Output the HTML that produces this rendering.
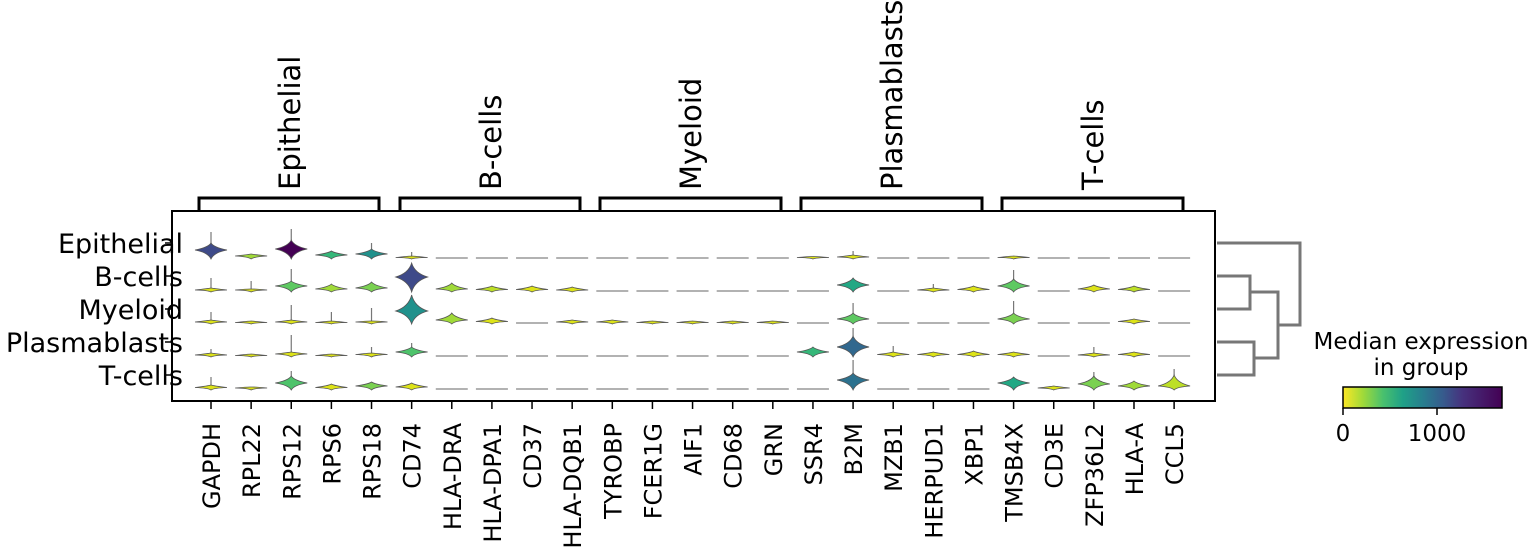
<!DOCTYPE html>
<html><head><meta charset="utf-8"><style>
html,body{margin:0;padding:0;background:#fff;}
svg{display:block;font-family:"DejaVu Sans","Liberation Sans",sans-serif;}
</style></head><body>
<svg id="s" width="1535" height="548" viewBox="0 0 1535 548" xmlns="http://www.w3.org/2000/svg">
<defs>
<linearGradient id="vir" x1="0" x2="1" y1="0" y2="0">
<stop offset="0" stop-color="#fde725"/><stop offset="0.125" stop-color="#a0da39"/><stop offset="0.25" stop-color="#4ac16d"/><stop offset="0.375" stop-color="#1fa187"/><stop offset="0.5" stop-color="#277f8e"/><stop offset="0.625" stop-color="#365c8d"/><stop offset="0.75" stop-color="#46327e"/><stop offset="1" stop-color="#440154"/>
</linearGradient>
</defs>
<rect x="172" y="211" width="1043" height="190" fill="#fff" stroke="#000" stroke-width="2"/>
<g id="v"></g>
<g fill="none" stroke="#000" stroke-width="3">
<path d="M199,211 V198 H379 V211"/><path d="M400,211 V198 H580 V211"/><path d="M600,211 V198 H781 V211"/><path d="M801,211 V198 H982 V211"/><path d="M1002,211 V198 H1183 V211"/>
</g>
<g font-size="29" fill="#000">
<text transform="translate(300,190) rotate(-90)">Epithelial</text>
<text transform="translate(501,190) rotate(-90)">B-cells</text>
<text transform="translate(701,190) rotate(-90)">Myeloid</text>
<text transform="translate(902,190) rotate(-90)">Plasmablasts</text>
<text transform="translate(1103,190) rotate(-90)">T-cells</text>
</g>
<g font-size="27" fill="#000" text-anchor="end">
<text x="183" y="253">Epithelial</text><text x="183" y="286">B-cells</text><text x="183" y="319">Myeloid</text><text x="183" y="352">Plasmablasts</text><text x="183" y="385">T-cells</text>
</g>
<g stroke="#000" stroke-width="1.5">
<line x1="165" x2="172" y1="243" y2="243"/><line x1="165" x2="172" y1="276" y2="276"/><line x1="165" x2="172" y1="309" y2="309"/><line x1="165" x2="172" y1="342" y2="342"/><line x1="165" x2="172" y1="375" y2="375"/>
</g>
<g id="xl" font-size="24" fill="#000" text-anchor="end"></g>
<g fill="none" stroke="#777" stroke-width="3">
<path d="M1217,243 H1300 V325 H1278"/>
<path d="M1217,276 H1250 V309 H1217"/><path d="M1250,292 H1278 V358 H1254"/>
<path d="M1217,342 H1254 V375 H1217"/>
</g>
<g font-size="23" fill="#000" text-anchor="middle">
<text x="1421" y="349">Median expression</text><text x="1421" y="375">in group</text>
<text x="1343" y="441">0</text><text x="1437" y="441">1000</text>
</g>
<rect x="1343" y="387" width="159" height="21" fill="url(#vir)" stroke="#000" stroke-width="1.5"/>
<g stroke="#000" stroke-width="1.5"><line x1="1343" x2="1343" y1="408" y2="415"/><line x1="1437" x2="1437" y1="408" y2="415"/></g>
</svg>
<script>
var genes=["GAPDH","RPL22","RPS12","RPS6","RPS18","CD74","HLA-DRA","HLA-DPA1","CD37","HLA-DQB1","TYROBP","FCER1G","AIF1","CD68","GRN","SSR4","B2M","MZB1","HERPUD1","XBP1","TMSB4X","CD3E","ZFP36L2","HLA-A","CCL5"];
var X=function(i){return 211+i*40.13;};
var NS="http://www.w3.org/2000/svg";
var xl=document.getElementById("xl"),v=document.getElementById("v"),s=document.getElementById("s");
genes.forEach(function(g,i){
 var t=document.createElementNS(NS,"text");t.setAttribute("transform","translate("+(X(i)+9)+",423) rotate(-90)");t.textContent=g;xl.appendChild(t);
 var l=document.createElementNS(NS,"line");l.setAttribute("x1",X(i));l.setAttribute("x2",X(i));l.setAttribute("y1",401);l.setAttribute("y2",409);l.setAttribute("stroke","#000");l.setAttribute("stroke-width","1.5");s.appendChild(l);
});
var Y=[258,291,323,356,389];
var Yc="#dde318",LG="#a0da39",G="#7ad151",MG="#5ec962",TE="#22a884",TL="#21918c",BL="#3e4a89",BL2="#31688e",PU="#440154",SG="#35b779";
var d=[
[0,0,BL,8,15,232],[0,1,LG,2,4,0],[0,2,PU,9,18,229],[0,3,SG,3,7,0],[0,4,TL,4,9,243],[0,5,Yc,0.5,2,252],[0,16,Yc,1,3,251],[0,15,Yc,0.5,1.5,0],[0,20,Yc,0.5,2,0],
[1,0,Yc,1,3,278],[1,1,Yc,1,2,281],[1,2,MG,5,10,269],[1,3,LG,2,7,0],[1,4,G,3,9,0],[1,5,BL,14,28,0],[1,6,LG,2,8,0],[1,7,"#bddf26",1.5,5,0],[1,8,Yc,1.5,5,0],[1,9,Yc,1,4,0],[1,16,TE,6,13,0],[1,18,Yc,1,3,284],[1,19,Yc,1.5,5,0],[1,20,MG,5,12,270],[1,22,Yc,2,6,0],[1,23,"#bddf26",1.5,5,0],
[2,0,Yc,1,3,312],[2,1,Yc,0.5,2,0],[2,2,Yc,1,3,305],[2,3,Yc,0.5,2,312],[2,4,Yc,1,2,308],[2,5,TL,12,28,295],[2,6,LG,3,10,0],[2,7,Yc,1.5,5,0],[2,9,Yc,1,3,0],[2,10,Yc,1,3,0],[2,11,Yc,0.5,2,0],[2,12,Yc,0.5,2,0],[2,13,Yc,0.5,2,0],[2,14,Yc,0.5,2,0],[2,16,MG,4,10,303],[2,20,G,4,10,301],[2,23,Yc,1.5,4,0],
[3,0,Yc,1,3,349],[3,1,Yc,0.5,2,0],[3,2,Yc,2,4,335],[3,3,Yc,0.5,2,0],[3,4,Yc,1.5,3,347],[3,5,"#4ec36b",4,9,343],[3,15,SG,4,9,0],[3,16,BL2,9,20,328],[3,17,Yc,1.5,4,346],[3,18,Yc,1.5,4,0],[3,19,Yc,1.5,5,0],[3,20,Yc,1.5,4,0],[3,22,Yc,1,3,347],[3,23,Yc,1.5,4,0],
[4,0,Yc,1.5,4,377],[4,1,Yc,1,2,0],[4,2,"#4ec36b",6,13,371],[4,3,Yc,1.5,5,0],[4,4,G,3,7,0],[4,5,Yc,2,6,0],[4,16,"#2c718e",9,16,360],[4,20,TE,6,12,0],[4,21,Yc,1,3,0],[4,22,G,5,13,372],[4,23,LG,3,8,0],[4,24,"#bddf26",3,14,369]
];
var has={};d.forEach(function(e){has[e[0]+"_"+e[1]]=1;});
for(var r=0;r<5;r++)for(var c=0;c<25;c++){if(!has[r+"_"+c]){var l=document.createElementNS(NS,"line");l.setAttribute("x1",X(c)-16);l.setAttribute("x2",X(c)+16);l.setAttribute("y1",Y[r]);l.setAttribute("y2",Y[r]);l.setAttribute("stroke","#999");l.setAttribute("stroke-width","1.5");v.appendChild(l);}}
d.forEach(function(e){var x=X(e[1]),y=Y[e[0]],m=e[3],t=e[4],w=16;
 if(e[5]){var l=document.createElementNS(NS,"line");l.setAttribute("x1",x);l.setAttribute("x2",x);l.setAttribute("y1",e[5]);l.setAttribute("y2",y-t);l.setAttribute("stroke","#777");l.setAttribute("stroke-width","1.2");v.appendChild(l);}
 var p=document.createElementNS(NS,"path");
 var ym=y-m,yt=y-t;
 p.setAttribute("d","M"+(x-w)+","+ym+" Q"+(x-3)+","+(ym-1-(t-m)*0.2)+" "+x+","+yt+" Q"+(x+3)+","+(ym-1-(t-m)*0.2)+" "+(x+w)+","+ym+" Q"+(x+3)+","+(ym+m*0.3)+" "+x+","+(y+Math.max(1,m*0.05))+" Q"+(x-3)+","+(ym+m*0.3)+" "+(x-w)+","+ym+"Z");
 p.setAttribute("fill",e[2]);p.setAttribute("stroke","#555");p.setAttribute("stroke-width","0.8");v.appendChild(p);
});
</script>
</body></html>
